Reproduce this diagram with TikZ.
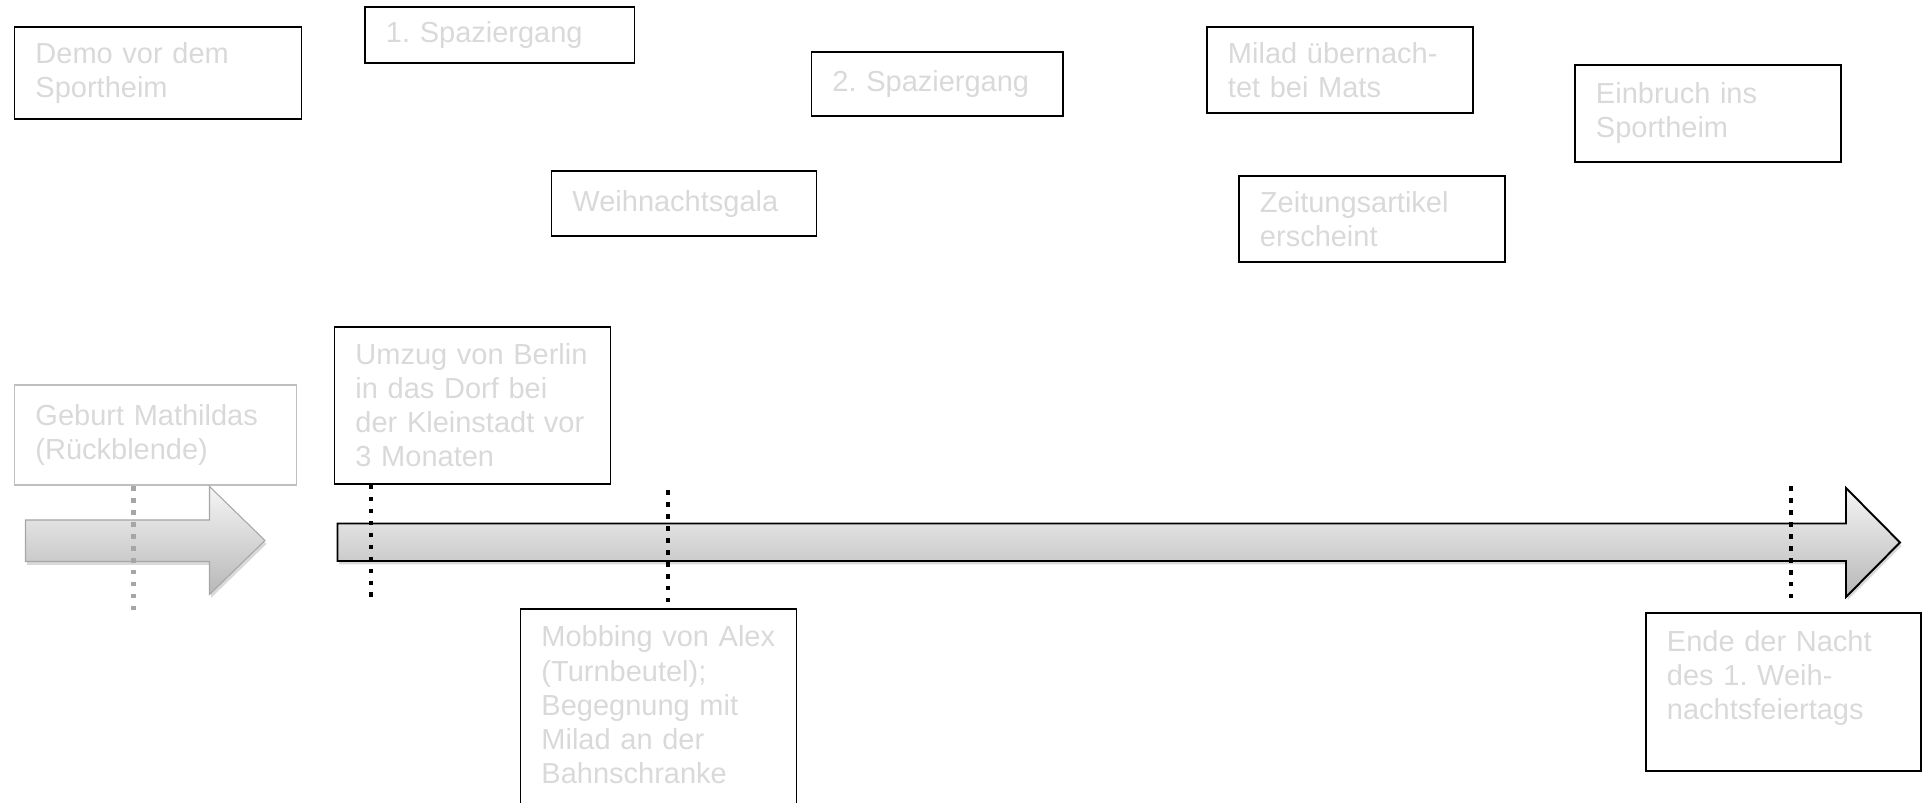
\documentclass[tikz,border=0pt]{standalone}
\usepackage{fontspec}
\setmainfont{Liberation Sans}
\frenchspacing
\definecolor{evtext}{RGB}{217,217,217}
\definecolor{evgray}{RGB}{191,191,191}
\definecolor{dotgray}{RGB}{166,166,166}
\usetikzlibrary{shadows}

\begin{document}
\begin{tikzpicture}[
  evbox/.style={draw=black, line width=1.1pt, text=evtext, align=left, anchor=north west,
    font=\fontsize{16.5}{19.4}\selectfont, inner xsep=0.42cm, inner ysep=0pt},
  tick/.style={line width=2.6pt, dash pattern=on 2.5pt off 4.3pt},
  timearrow/.style={line width=1.1pt, shading=axis, top color=black!4, bottom color=black!28,
    drop shadow={shadow xshift=0.03cm, shadow yshift=-0.07cm, opacity=0.3}}
]
  \useasboundingbox (0,0) rectangle (38.44,16.06);

  % Events above the timeline
  \node[evbox, text width=4.90cm, minimum height=1.84cm] (demo) at (0.27,15.54) {Demo vor dem\\Sportheim};
  \node[evbox, text width=4.55cm, minimum height=1.13cm] (spaz1) at (7.28,15.94) {1. Spaziergang};
  \node[evbox, text width=4.19cm, minimum height=1.28cm] (spaz2) at (16.21,15.03) {2. Spaziergang};
  \node[evbox, text width=4.46cm, minimum height=1.30cm] (gala) at (11.01,12.65) {Weihnachtsgala};
  \node[evbox, text width=4.48cm, minimum height=1.72cm] (milad) at (24.12,15.54) {Milad übernach-\\tet bei Mats};
  \node[evbox, text width=4.48cm, minimum height=1.72cm] (zeitung) at (24.76,12.55) {Zeitungsartikel\\erscheint};
  \node[evbox, text width=4.48cm, minimum height=1.94cm] (einbruch) at (31.48,14.78) {Einbruch ins\\Sportheim};

  % Flashback
  \node[evbox, draw=evgray, text width=4.80cm, minimum height=2.01cm] (geburt) at (0.27,8.38) {Geburt Mathildas\\(Rückblende)};
  \draw[timearrow, draw=dotgray, line width=0.6pt] (0.51,5.66) -- (4.19,5.66) -- (4.19,6.33) -- (5.30,5.25)
    -- (4.19,4.17) -- (4.19,4.83) -- (0.51,4.83) -- cycle;

  % Main timeline
  \draw[timearrow] (6.75,5.59) -- (36.92,5.59) -- (36.92,6.30) -- (38.00,5.21)
    -- (36.92,4.12) -- (36.92,4.84) -- (6.75,4.84) -- cycle;

  % Events on the timeline
  \node[evbox, text width=4.68cm, minimum height=3.14cm] (umzug) at (6.67,9.54) {Umzug von Berlin\\in das Dorf bei\\der Kleinstadt vor\\3 Monaten};
  \node[evbox, text width=4.68cm, minimum height=4.51cm] (mobbing) at (10.39,3.90) {Mobbing von Alex\\(Turnbeutel);\\Begegnung mit\\Milad an der\\Bahnschranke\\\mbox{}};
  \node[evbox, text width=4.66cm, minimum height=3.16cm] (ende) at (32.90,3.82) {Ende der Nacht\\des 1. Weih-\\nachtsfeiertags\\\mbox{}};

  % Markers
  \coordinate (gend) at (2.67,3.85);
  \coordinate (uend) at (7.42,4.05);
  \coordinate (mtop) at (13.36,6.25);
  \coordinate (etop) at (35.82,6.33);
  \coordinate (eend) at (35.82,4.05);
  \draw[tick, dotgray] (geburt.south -| gend) -- (gend);
  \draw[tick] (umzug.south -| uend) -- (uend);
  \draw[tick] (mtop) -- (mobbing.north -| mtop);
  \draw[tick] (etop) -- (eend);
\end{tikzpicture}
\end{document}
